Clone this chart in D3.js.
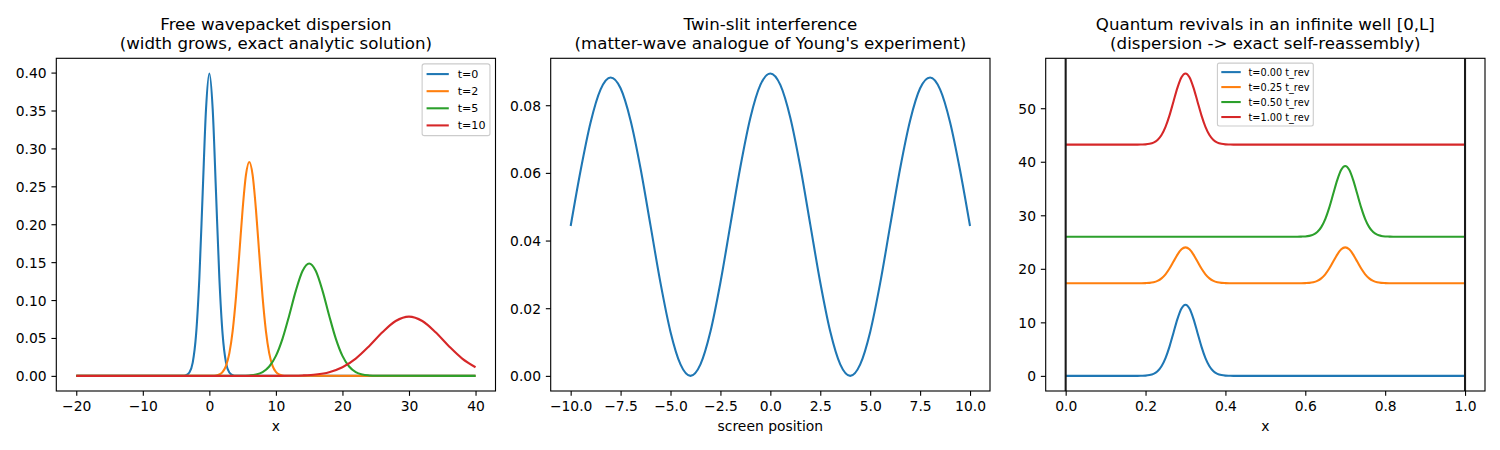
<!DOCTYPE html>
<html>
<head>
<meta charset="utf-8">
<script src="https://cdn.jsdelivr.net/npm/d3@7"></script>
<style>
  html, body { margin: 0; padding: 0; background: #fff; }
  svg { display: block; font-family: "DejaVu Sans", sans-serif; }
</style>
</head>
<body>
<svg id="chart" width="1500" height="450"></svg>
<script>
// ---------------- DATA ----------------
// Panel 1: free wavepacket |psi|^2
const wpLabels = ["t=0", "t=2", "t=5", "t=10"];
const wpX0 = [-20,-4,-3.5,-3,-2.5,-2,-1.5,-1,-0.5,0,0.5,1,1.5,2,2.5,3,3.5,4,40];
const wpY0 = [0,0.0001,0.0009,0.0044,0.0175,0.0540,0.1295,0.2420,0.3521,0.3989,0.3521,0.2420,0.1295,0.0540,0.0175,0.0044,0.0009,0.0001,0];
const wpX2 = [-20,0.5,1,1.5,2,2.5,3,3.5,4,4.5,5,5.5,6,6.5,7,7.5,8,8.5,9,9.5,10,10.5,11,11.5,40];
const wpY2 = [0,0.0001,0.0005,0.0018,0.0052,0.0132,0.0297,0.0591,0.1038,0.1607,0.2197,0.2650,0.2821,0.2650,0.2197,0.1607,0.1038,0.0591,0.0297,0.0132,0.0052,0.0018,0.0005,0.0001,0];
const wpX5 = [-20,5,6,7,8,9,10,11,12,13,14,15,16,17,18,19,20,21,22,23,24,25,40];
const wpY5 = [0,0.0001,0.0006,0.0018,0.0050,0.0124,0.0264,0.0492,0.0797,0.1125,0.1383,0.1482,0.1383,0.1125,0.0797,0.0492,0.0264,0.0124,0.0050,0.0018,0.0006,0.0001,0];
const wpX10 = [-20,10,12,14,16,18,20,22,24,26,28,30,32,34,36,38,40];
const wpY10 = [0,0.0000,0.0002,0.0006,0.0018,0.0049,0.0114,0.0228,0.0391,0.0575,0.0724,0.0782,0.0724,0.0575,0.0391,0.0228,0.0114];
const wpXTicks = [-20,-10,0,10,20,30,40];
const wpYTicks = [0,0.05,0.10,0.15,0.20,0.25,0.30,0.35,0.40];

// Panel 2: twin-slit screen intensity
const slitX = [-10,-9.5,-9,-8.5,-8,-7.5,-7,-6.5,-6,-5.5,-5,-4.5,-4,-3.5,-3,-2.5,-2,-1.5,-1,-0.5,0,0.5,1,1.5,2,2.5,3,3.5,4,4.5,5,5.5,6,6.5,7,7.5,8,8.5,9,9.5,10];
const slitY = [0.0443,0.0608,0.0750,0.0847,0.0882,0.0850,0.0755,0.0613,0.0444,0.0274,0.0130,0.0034,0.0000,0.0034,0.0131,0.0276,0.0447,0.0618,0.0763,0.0860,0.0894,0.0860,0.0763,0.0618,0.0447,0.0276,0.0131,0.0034,0.0000,0.0034,0.0130,0.0274,0.0444,0.0613,0.0755,0.0850,0.0882,0.0847,0.0750,0.0608,0.0443];
const slitXTicks = [-10,-7.5,-5,-2.5,0,2.5,5,7.5,10];
const slitYTicks = [0,0.02,0.04,0.06,0.08];

// Panel 3: quantum revivals (offset curves)
const revLabels = ["t=0.00 t_rev", "t=0.25 t_rev", "t=0.50 t_rev", "t=1.00 t_rev"];
const revX0 = [0,0.18,0.19,0.20,0.21,0.22,0.23,0.24,0.25,0.26,0.27,0.28,0.29,0.30,0.31,0.32,0.33,0.34,0.35,0.36,0.37,0.38,0.39,0.40,0.41,0.42,1.0];
const revY0 = [0,0,0.02,0.05,0.15,0.38,0.87,1.80,3.32,5.47,8.07,10.65,12.58,13.30,12.58,10.65,8.07,5.47,3.32,1.80,0.87,0.38,0.15,0.05,0.02,0,0];
const revX25 = [0,0.18,0.19,0.20,0.21,0.22,0.23,0.24,0.25,0.26,0.27,0.28,0.29,0.30,0.31,0.32,0.33,0.34,0.35,0.36,0.37,0.38,0.39,0.40,0.41,0.42,
                0.58,0.59,0.60,0.61,0.62,0.63,0.64,0.65,0.66,0.67,0.68,0.69,0.70,0.71,0.72,0.73,0.74,0.75,0.76,0.77,0.78,0.79,0.80,0.81,0.82,1.0];
const revY25 = [17.30,17.30,17.31,17.33,17.37,17.49,17.74,18.21,18.97,20.05,21.36,22.66,23.64,24.00,23.64,22.66,21.36,20.05,18.97,18.21,17.74,17.49,17.37,17.33,17.31,17.30,
                17.30,17.31,17.33,17.37,17.49,17.74,18.21,18.97,20.05,21.36,22.66,23.64,24.00,23.64,22.66,21.36,20.05,18.97,18.21,17.74,17.49,17.37,17.33,17.31,17.30,17.30];
const revX50 = [0,0.58,0.59,0.60,0.61,0.62,0.63,0.64,0.65,0.66,0.67,0.68,0.69,0.70,0.71,0.72,0.73,0.74,0.75,0.76,0.77,0.78,0.79,0.80,0.81,0.82,1.0];
const revY50 = [26.00,26.00,26.02,26.05,26.15,26.38,26.87,27.79,29.29,31.43,34.01,36.57,38.49,39.20,38.49,36.57,34.01,31.43,29.29,27.79,26.87,26.38,26.15,26.05,26.02,26.00,26.00];
const revX100 = [0,0.18,0.19,0.20,0.21,0.22,0.23,0.24,0.25,0.26,0.27,0.28,0.29,0.30,0.31,0.32,0.33,0.34,0.35,0.36,0.37,0.38,0.39,0.40,0.41,0.42,1.0];
const revY100 = [43.20,43.20,43.22,43.25,43.35,43.58,44.07,45.00,46.52,48.67,51.27,53.85,55.78,56.50,55.78,53.85,51.27,48.67,46.52,45.00,44.07,43.58,43.35,43.25,43.22,43.20,43.20];
const wallX = [0, 1];
const revXTicks = [0,0.2,0.4,0.6,0.8,1.0];
const revYTicks = [0,10,20,30,40,50];

const colors = ["#1f77b4", "#ff7f0e", "#2ca02c", "#d62728"];

// ---------------- DRAWING ----------------
const svg = d3.select("#chart");
const PT = 100 / 72;
const TOP = 58.3, BOTTOM = 391;

function zip(xs, ys) { return xs.map((x, i) => [x, ys[i]]); }

function padded(ext) {
  const r = ext[1] - ext[0];
  return [ext[0] - 0.05 * r, ext[1] + 0.05 * r];
}

function panel(opts) {
  const g = svg.append("g");
  const allX = opts.series.flatMap(s => s.x);
  const allY = opts.series.flatMap(s => s.y);
  const x = d3.scaleLinear().domain(padded(d3.extent(allX))).range([opts.left, opts.right]);
  const y = d3.scaleLinear().domain(padded(d3.extent(allY))).range([BOTTOM, TOP]);

  const clipId = "clip" + opts.id;
  svg.append("clipPath").attr("id", clipId).append("rect")
    .attr("x", opts.left).attr("y", TOP).attr("width", opts.right - opts.left).attr("height", BOTTOM - TOP);

  const line = d3.line().x(d => x(d[0])).y(d => y(d[1])).curve(d3.curveMonotoneX);
  const plot = g.append("g").attr("clip-path", `url(#${clipId})`);
  opts.series.forEach(s => {
    plot.append("path").attr("d", line(zip(s.x, s.y)))
      .attr("fill", "none").attr("stroke", s.color).attr("stroke-width", 1.5 * PT)
      .attr("stroke-linejoin", "round").attr("stroke-linecap", "butt");
  });

  if (opts.walls) {
    opts.walls.forEach(wx => {
      plot.append("line").attr("x1", x(wx)).attr("x2", x(wx)).attr("y1", TOP).attr("y2", BOTTOM)
        .attr("stroke", "#1a1a1a").attr("stroke-width", 1.5 * PT);
    });
  }

  // axes
  const xa = d3.axisBottom(x).tickValues(opts.xTicks).tickFormat(opts.xFmt)
    .tickSizeInner(3.5 * PT).tickSizeOuter(0).tickPadding(3.5 * PT);
  const ya = d3.axisLeft(y).tickValues(opts.yTicks).tickFormat(opts.yFmt)
    .tickSizeInner(3.5 * PT).tickSizeOuter(0).tickPadding(3.5 * PT);
  const gx = g.append("g").attr("transform", `translate(0,${BOTTOM})`).call(xa);
  const gy = g.append("g").attr("transform", `translate(${opts.left},0)`).call(ya);
  [gx, gy].forEach(a => {
    a.select(".domain").remove();
    a.selectAll(".tick line").attr("stroke", "#000").attr("stroke-width", 0.8 * PT);
    a.selectAll(".tick text").attr("fill", "#000").style("font-size", (10 * PT) + "px")
      .style("font-family", "DejaVu Sans");
  });
  gx.selectAll(".tick text").attr("dy", "0.74em");
  gy.selectAll(".tick text").attr("dy", "0.36em");

  // frame
  g.append("rect").attr("x", opts.left).attr("y", TOP)
    .attr("width", opts.right - opts.left).attr("height", BOTTOM - TOP)
    .attr("fill", "none").attr("stroke", "#000").attr("stroke-width", 0.8 * PT);

  // x label
  g.append("text").attr("x", (opts.left + opts.right) / 2).attr("y", 431)
    .attr("text-anchor", "middle").style("font-size", (10 * PT) + "px").text(opts.xLabel);

  // title
  const cx = (opts.left + opts.right) / 2;
  g.append("text").attr("x", cx).attr("y", 30).attr("text-anchor", "middle")
    .style("font-size", (12 * PT) + "px").text(opts.title[0]);
  g.append("text").attr("x", cx).attr("y", 49.2).attr("text-anchor", "middle")
    .style("font-size", (12 * PT) + "px").text(opts.title[1]);

  // legend
  if (opts.legend) {
    const L = opts.legend;
    const fs = L.fs * PT;
    const bp = 0.4 * fs, ls = 0.5 * fs, hl = 2.0 * fs, htp = 0.8 * fs, bap = 0.5 * fs;
    const rowH = 1.04 * fs;
    const lg = g.append("g");
    const box = lg.append("rect");
    const texts = L.labels.map((t, i) => lg.append("text").style("font-size", fs + "px").text(t));
    const tw = d3.max(texts, t => t.node().getComputedTextLength());
    const W = 2 * bp + hl + htp + tw;
    const H = 2 * bp + L.labels.length * rowH + (L.labels.length - 1) * ls;
    let bx;
    if (L.loc === "upper right") bx = opts.right - bap - W;
    else bx = (opts.left + opts.right) / 2 - W / 2;
    const by = TOP + bap;
    box.attr("x", bx).attr("y", by).attr("width", W).attr("height", H).attr("rx", 0.2 * fs)
      .attr("fill", "#fff").attr("fill-opacity", 0.8).attr("stroke", "#cccccc").attr("stroke-width", 0.8 * PT);
    L.labels.forEach((t, i) => {
      const cy = by + bp + i * (rowH + ls) + rowH / 2;
      lg.append("line").attr("x1", bx + bp).attr("x2", bx + bp + hl).attr("y1", cy).attr("y2", cy)
        .attr("stroke", colors[i]).attr("stroke-width", 1.5 * PT);
      texts[i].attr("x", bx + bp + hl + htp).attr("y", cy).attr("dy", "0.36em");
    });
  }
}

panel({
  id: 1, left: 56.3, right: 495.5,
  series: [
    { x: wpX0, y: wpY0, color: colors[0] },
    { x: wpX2, y: wpY2, color: colors[1] },
    { x: wpX5, y: wpY5, color: colors[2] },
    { x: wpX10, y: wpY10, color: colors[3] }
  ],
  xTicks: wpXTicks, yTicks: wpYTicks,
  xFmt: d3.format("d"), yFmt: d3.format(".2f"),
  xLabel: "x",
  title: ["Free wavepacket dispersion", "(width grows, exact analytic solution)"],
  legend: { labels: wpLabels, fs: 8, loc: "upper right" }
});

panel({
  id: 2, left: 550.7, right: 990,
  series: [ { x: slitX, y: slitY, color: colors[0] } ],
  xTicks: slitXTicks, yTicks: slitYTicks,
  xFmt: d3.format(".1f"), yFmt: d3.format(".2f"),
  xLabel: "screen position",
  title: ["Twin-slit interference", "(matter-wave analogue of Young's experiment)"]
});

panel({
  id: 3, left: 1045.7, right: 1485,
  series: [
    { x: revX0, y: revY0, color: colors[0] },
    { x: revX25, y: revY25, color: colors[1] },
    { x: revX50, y: revY50, color: colors[2] },
    { x: revX100, y: revY100, color: colors[3] }
  ],
  walls: wallX,
  xTicks: revXTicks, yTicks: revYTicks,
  xFmt: d3.format(".1f"), yFmt: d3.format("d"),
  xLabel: "x",
  title: ["Quantum revivals in an infinite well [0,L]", "(dispersion -> exact self-reassembly)"],
  legend: { labels: revLabels, fs: 7, loc: "upper center" }
});
</script>
</body>
</html>
